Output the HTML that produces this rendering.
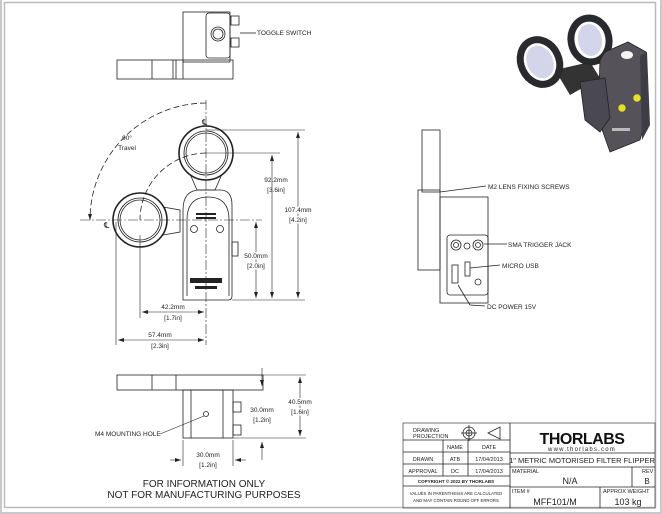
<!DOCTYPE html>
<html><head><meta charset="utf-8"><style>
html,body{margin:0;padding:0;background:#c9c9cd;}
svg{display:block;font-family:"Liberation Sans",sans-serif;}
</style></head><body>
<svg width="662" height="514" viewBox="0 0 662 514" xmlns="http://www.w3.org/2000/svg">
<rect x="2" y="0" width="658" height="512" fill="#fff"/>
<rect x="4.5" y="2.5" width="651" height="505" fill="none" stroke="#bbb" stroke-width="1.5"/>
<g stroke="#222" stroke-width="0.8" fill="none">
<!-- top view -->
<rect x="183" y="12" width="47" height="50"/>
<rect x="206" y="13" width="24" height="45" rx="3"/>
<circle cx="218" cy="34" r="7"/><circle cx="218" cy="34" r="5"/>
<rect x="231" y="16" width="8" height="9"/><rect x="231" y="38" width="8" height="9"/>
<rect x="117" y="60" width="116" height="19"/>
<line x1="152" y1="60" x2="152" y2="79"/><line x1="173" y1="60" x2="173" y2="79"/><line x1="176" y1="60" x2="176" y2="79"/><line x1="183" y1="60" x2="183" y2="79"/>
<line x1="240" y1="33" x2="256" y2="33"/>
<!-- front view -->
<circle cx="206" cy="153" r="27" stroke-width="1.6"/><circle cx="206" cy="153" r="22"/><circle cx="206" cy="153" r="20"/>
<circle cx="140" cy="220" r="27" stroke-width="1.6"/><circle cx="140" cy="220" r="22"/><circle cx="140" cy="220" r="20"/>
<path d="M190 174 L197 190 L215 190 L222 174"/>
<path d="M163 207 L180 210 L180 232 L163 235"/>
<path d="M183 300 L183 210 Q183 190 200 190 L220 190 Q232 190 232 205 L232 296 Q232 300 228 300 Z"/>
<path d="M187 296 L187 220 Q187 197 208 197 Q229 197 229 220 L229 296"/>
<rect x="232" y="242" width="6" height="14"/>
<circle cx="194" cy="229" r="3.5"/><circle cx="220" cy="229" r="3.5"/>
<path d="M206 103 A117 117 0 0 0 90 220" stroke-dasharray="6,3"/>
<path d="M206 153 A67 67 0 0 0 140 220" stroke-dasharray="6,3"/>
<line x1="206" y1="100" x2="206" y2="345" stroke-dasharray="10,2,2,2" stroke-width="0.6"/>
<line x1="80" y1="220" x2="262" y2="220" stroke-dasharray="10,2,2,2" stroke-width="0.6"/>
<line x1="232" y1="300" x2="305" y2="300" stroke-width="0.6"/>
<line x1="206" y1="130" x2="305" y2="130" stroke-width="0.6"/>
<line x1="206" y1="153" x2="280" y2="153" stroke-width="0.6"/>
<line x1="272" y1="155" x2="272" y2="298" stroke-width="0.6"/>
<line x1="298" y1="132" x2="298" y2="298" stroke-width="0.6"/>
<line x1="256" y1="222" x2="256" y2="298" stroke-width="0.6"/>
<line x1="140" y1="235" x2="140" y2="318" stroke-width="0.6"/>
<line x1="116" y1="222" x2="116" y2="345" stroke-width="0.6"/>
<line x1="142" y1="312" x2="204" y2="312" stroke-width="0.6"/>
<line x1="118" y1="340" x2="204" y2="340" stroke-width="0.6"/>
<!-- side view -->
<rect x="422" y="130" width="18" height="62"/>
<rect x="418" y="190" width="22" height="80"/>
<rect x="440" y="197" width="48" height="106"/>
<rect x="447" y="235" width="41" height="60" rx="3"/>
<circle cx="456" cy="245" r="5"/><circle cx="456" cy="245" r="2.5"/>
<circle cx="478" cy="245" r="5"/><circle cx="478" cy="245" r="2.5"/>
<circle cx="467" cy="246" r="3"/>
<rect x="452" y="265" width="6" height="18"/><rect x="465" y="262" width="5" height="14"/>
<circle cx="478" cy="282" r="3"/>
<line x1="440" y1="192" x2="486" y2="186"/>
<line x1="484" y1="244" x2="507" y2="244"/>
<line x1="470" y1="268" x2="500" y2="265"/>
<line x1="458" y1="285" x2="470" y2="305"/><line x1="470" y1="305" x2="485" y2="306"/>
<!-- bottom view -->
<rect x="117" y="375" width="146" height="15"/>
<line x1="152" y1="375" x2="152" y2="390"/><line x1="176" y1="375" x2="176" y2="390"/>
<rect x="183" y="390" width="50" height="48"/>
<line x1="191" y1="390" x2="191" y2="438"/><line x1="223" y1="390" x2="223" y2="438"/>
<rect x="233" y="402" width="8" height="10"/><rect x="233" y="425" width="8" height="10"/>
<circle cx="206" cy="414" r="2.5"/>
<line x1="160" y1="434" x2="204" y2="416" stroke-width="0.6"/>
<line x1="263" y1="375" x2="306" y2="375" stroke-width="0.6"/>
<line x1="233" y1="438" x2="306" y2="438" stroke-width="0.6"/>
<line x1="300" y1="377" x2="300" y2="436" stroke-width="0.6"/>
<line x1="262" y1="368" x2="262" y2="386" stroke-width="0.6"/>
<line x1="262" y1="442" x2="262" y2="460" stroke-width="0.6"/>
<line x1="183" y1="440" x2="183" y2="466" stroke-width="0.6"/><line x1="233" y1="440" x2="233" y2="466" stroke-width="0.6"/>
<line x1="170" y1="460" x2="181" y2="460" stroke-width="0.6"/><line x1="235" y1="460" x2="246" y2="460" stroke-width="0.6"/>
<!-- title block -->
<rect x="403" y="423" width="252" height="85" stroke="#555"/>
<line x1="510" y1="423" x2="510" y2="508"/>
<line x1="403" y1="440" x2="510" y2="440"/>
<line x1="403" y1="452" x2="510" y2="452"/><line x1="403" y1="464" x2="510" y2="464"/><line x1="403" y1="476" x2="510" y2="476"/><line x1="403" y1="486" x2="510" y2="486"/>
<line x1="443" y1="440" x2="443" y2="476"/><line x1="468" y1="440" x2="468" y2="476"/>
<line x1="510" y1="453" x2="655" y2="453"/><line x1="510" y1="467" x2="655" y2="467"/><line x1="510" y1="487" x2="655" y2="487"/>
<line x1="632" y1="467" x2="632" y2="487"/><line x1="600" y1="487" x2="600" y2="508"/>
<circle cx="469" cy="433" r="6"/><circle cx="469" cy="433" r="3"/><line x1="461" y1="433" x2="477" y2="433"/><line x1="469" y1="425" x2="469" y2="441"/>
<path d="M488 433 L500 427 L500 439 Z"/>
</g>
<g fill="#222">
<polygon points="272,155 270,161 274,161"/><polygon points="272,298 270,292 274,292"/>
<polygon points="298,132 296,138 300,138"/><polygon points="298,298 296,292 300,292"/>
<polygon points="256,222 254,228 258,228"/><polygon points="256,298 254,292 258,292"/>
<polygon points="142,312 148,310 148,314"/><polygon points="204,312 198,310 198,314"/>
<polygon points="118,340 124,338 124,342"/><polygon points="204,340 198,338 198,342"/>
<polygon points="90,220 88,214 92,214"/><polygon points="300,377 298,383 302,383"/><polygon points="300,436 298,430 302,430"/>
<polygon points="262,386 260,380 264,380"/><polygon points="262,442 260,448 264,448"/>
<polygon points="181,460 175,458 175,462"/><polygon points="235,460 241,458 241,462"/>
<rect x="196" y="213" width="20" height="2"/><rect x="196" y="217" width="20" height="2"/>
<rect x="190" y="278" width="32" height="5"/><rect x="195" y="286" width="22" height="3"/>
</g>
<g font-size="6.5" fill="#222">
<text x="257" y="35">TOGGLE SWITCH</text>
<text x="127" y="140" text-anchor="middle">90°</text><text x="127" y="150" text-anchor="middle">Travel</text>
<text x="202" y="125" font-size="8">℄</text><text x="104" y="228" font-size="8">℄</text>
<text x="276" y="182" text-anchor="middle">92.2mm</text><text x="276" y="192" text-anchor="middle">[3.6in]</text>
<text x="298" y="212" text-anchor="middle" fill="#fff" stroke="#fff" stroke-width="3">107.4mm</text><text x="298" y="212" text-anchor="middle">107.4mm</text>
<text x="298" y="222" text-anchor="middle" fill="#fff" stroke="#fff" stroke-width="3">[4.2in]</text><text x="298" y="222" text-anchor="middle">[4.2in]</text>
<text x="256" y="258" text-anchor="middle" fill="#fff" stroke="#fff" stroke-width="3">50.0mm</text><text x="256" y="258" text-anchor="middle">50.0mm</text>
<text x="256" y="268" text-anchor="middle" fill="#fff" stroke="#fff" stroke-width="3">[2.0in]</text><text x="256" y="268" text-anchor="middle">[2.0in]</text>
<text x="173" y="309" text-anchor="middle">42.2mm</text><text x="173" y="320" text-anchor="middle">[1.7in]</text>
<text x="160" y="337" text-anchor="middle">57.4mm</text><text x="160" y="348" text-anchor="middle">[2.3in]</text>
<text x="488" y="189">M2 LENS FIXING SCREWS</text>
<text x="508" y="247">SMA TRIGGER JACK</text>
<text x="502" y="268">MICRO USB</text>
<text x="487" y="309">DC POWER 15V</text>
<text x="95" y="436">M4 MOUNTING HOLE</text>
<text x="300" y="404" text-anchor="middle" fill="#fff" stroke="#fff" stroke-width="3">40.5mm</text><text x="300" y="404" text-anchor="middle">40.5mm</text>
<text x="300" y="414" text-anchor="middle" fill="#fff" stroke="#fff" stroke-width="3">[1.6in]</text><text x="300" y="414" text-anchor="middle">[1.6in]</text>
<text x="262" y="412" text-anchor="middle">30.0mm</text><text x="262" y="422" text-anchor="middle">[1.2in]</text>
<text x="208" y="457" text-anchor="middle">30.0mm</text><text x="208" y="467" text-anchor="middle">[1.2in]</text>
</g>
<g font-size="10" fill="#222" text-anchor="middle">
<text x="204" y="487">FOR INFORMATION ONLY</text>
<text x="204" y="498">NOT FOR MANUFACTURING PURPOSES</text>
</g>
<g font-size="5.5" fill="#222">
<text x="413" y="432">DRAWING</text><text x="413" y="438">PROJECTION</text>
<text x="455" y="449" text-anchor="middle">NAME</text><text x="489" y="449" text-anchor="middle">DATE</text>
<text x="423" y="461" text-anchor="middle">DRAWN</text><text x="455" y="461" text-anchor="middle">ATB</text><text x="489" y="461" text-anchor="middle">17/04/2013</text>
<text x="423" y="473" text-anchor="middle">APPROVAL</text><text x="455" y="473" text-anchor="middle">DC</text><text x="489" y="473" text-anchor="middle">17/04/2013</text>
<text x="456" y="483" text-anchor="middle" font-size="4.5" font-weight="bold">COPYRIGHT © 2022 BY THORLABS</text>
<text x="456" y="495" text-anchor="middle" font-size="4.3">VALUES IN PARENTHESIS ARE CALCULATED</text>
<text x="456" y="502" text-anchor="middle" font-size="4.3">AND MAY CONTAIN ROUND OFF ERRORS</text>
<text x="512" y="473">MATERIAL</text><text x="642" y="473">REV</text>
<text x="512" y="493">ITEM #</text><text x="603" y="493">APPROX WEIGHT</text>
</g>
<text x="582" y="444" font-size="16" font-weight="bold" text-anchor="middle" fill="#111" letter-spacing="-0.5">THORLABS</text>
<text x="582" y="451" font-size="6" text-anchor="middle" fill="#222" letter-spacing="1.2">www.thorlabs.com</text>
<text x="582" y="463" font-size="7.5" text-anchor="middle" fill="#222">1" METRIC MOTORISED FILTER FLIPPER</text>
<text x="570" y="484" font-size="9" text-anchor="middle" fill="#222">N/A</text>
<text x="647" y="484" font-size="8" text-anchor="middle" fill="#222">B</text>
<text x="555" y="505" font-size="9" text-anchor="middle" fill="#222">MFF101/M</text>
<text x="628" y="505" font-size="9" text-anchor="middle" fill="#222">103 kg</text>
<!-- 3D render -->
<g>
<polygon points="555,70 590,62 600,78 570,95" fill="#333"/>
<ellipse cx="540" cy="62" rx="19" ry="23" transform="rotate(-25 540 62)" fill="none" stroke="#2a2a2e" stroke-width="7"/>
<ellipse cx="540" cy="62" rx="13" ry="17" transform="rotate(-25 540 62)" fill="#d4d4ea"/>
<ellipse cx="590" cy="40" rx="19" ry="22" transform="rotate(-10 590 40)" fill="none" stroke="#2a2a2e" stroke-width="7"/>
<ellipse cx="590" cy="40" rx="12" ry="16" transform="rotate(-10 590 40)" fill="#d4d4ea"/>
<polygon points="605,52 628,42 646,52 648,112 640,140 610,152 598,118 600,60" fill="#55525a" stroke="#222" stroke-width="0.8"/>
<polygon points="640,56 647,52 650,125 642,140" fill="#3e3c44"/>
<ellipse cx="627" cy="55" rx="6" ry="4" fill="#f5f5f5"/>
<polygon points="580,82 605,78 610,118 600,132 585,120" fill="#4a4850" stroke="#222" stroke-width="0.8"/>
<circle cx="622" cy="108" r="4" fill="#e8e020" stroke="#555" stroke-width="0.6"/>
<circle cx="637" cy="98" r="4" fill="#e8e020" stroke="#555" stroke-width="0.6"/>
<rect x="612" y="128" width="18" height="3" fill="#bbb"/>
</g>
</svg>
</body></html>
